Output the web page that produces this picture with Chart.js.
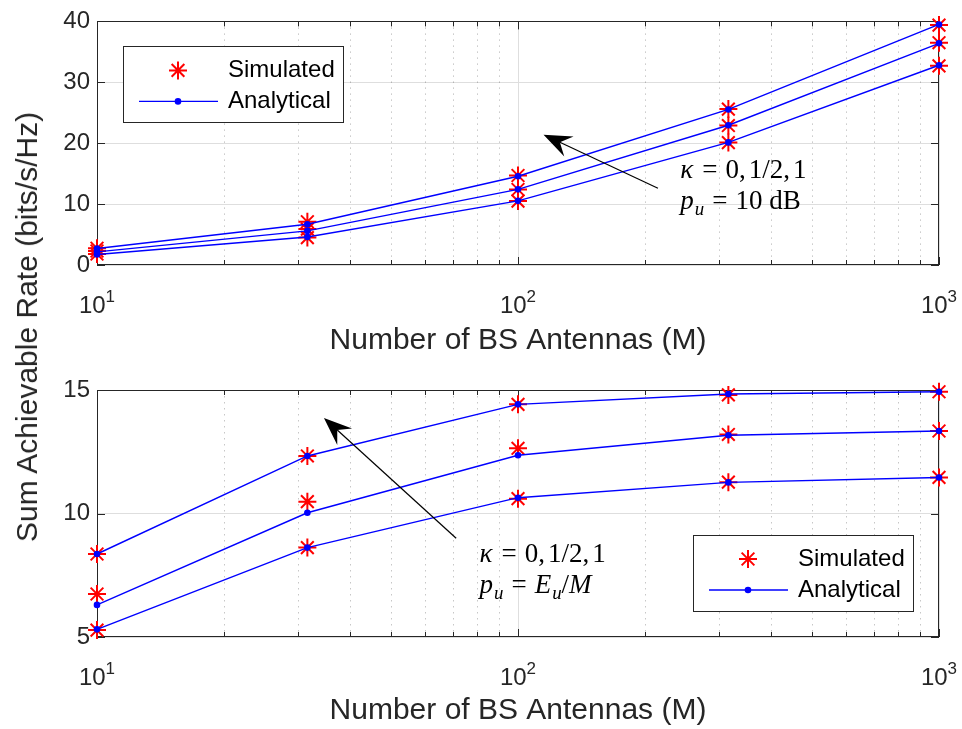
<!DOCTYPE html>
<html>
<head>
<meta charset="utf-8">
<script src="https://cdn.jsdelivr.net/npm/chart.js@4.4.0/dist/chart.umd.min.js"></script>
<style>
  body { margin: 0; background: #fff; }
  #wrap { position: relative; width: 962px; height: 729px; overflow: hidden; }
  canvas { position: absolute; left: 0; }
  #ylabel {
    position: absolute; left: 27px; top: 327px;
    transform: translate(-50%, -50%) rotate(-90deg);
    font: 30px "Liberation Sans", Arial, sans-serif;
    color: #262626; white-space: nowrap;
  }
</style>
</head>
<body>
<div id="wrap">
  <canvas id="rateFixed" width="962" height="365" style="top:0"></canvas>
  <canvas id="rateScaled" width="962" height="364" style="top:365px"></canvas>
  <div id="ylabel">Sum Achievable Rate (bits/s/Hz)</div>
</div>
<script>
// number of BS antennas M
const antennas = [10, 31.6, 100, 316, 1000];
const xTicks = [10, 20, 30, 40, 50, 60, 70, 80, 90, 100, 200, 300, 400, 500, 600, 700, 800, 900, 1000];
const xDecades = [10, 100, 1000];
const yTicksFixed = [0, 10, 20, 30, 40];
const yTicksScaled = [5, 10, 15];
const legendLabels = ['Simulated', 'Analytical'];

// p_u = 10 dB, kappa = 0, 1/2, 1
const fixedAnalyticA = [2.70, 6.70, 14.57, 25.54, 39.5];
const fixedAnalyticB = [2.16, 5.60, 12.42, 22.95, 36.4];
const fixedAnalyticC = [1.73, 4.60, 10.53, 20.13, 32.8];
const fixedSimA = [2.75, 7.10, 14.70, 25.60, 39.4];
const fixedSimB = [2.30, 5.90, 12.40, 22.90, 36.5];
const fixedSimC = [1.80, 4.50, 10.50, 20.10, 32.7];

// p_u = E_u / M
const scaledAnalyticA = [8.36, 12.33, 14.42, 14.84, 14.93];
const scaledAnalyticB = [6.30, 10.03, 12.36, 13.17, 13.34];
const scaledAnalyticC = [5.31, 8.62, 10.64, 11.26, 11.46];
const scaledSimA = [8.36, 12.33, 14.42, 14.80, 14.93];
const scaledSimB = [6.74, 10.48, 12.64, 13.20, 13.34];
const scaledSimC = [5.28, 8.62, 10.60, 11.27, 11.46];

const AXIS = '#262626';
const SANS = '"Liberation Sans", Arial, sans-serif';
const SERIF = '"Liberation Serif", "Times New Roman", serif';

function pts(values) {
  return antennas.map((m, i) => ({ x: m, y: values[i] }));
}
function analytic(values) {
  return {
    label: legendLabels[1], data: pts(values), showLine: true,
    borderColor: '#0000ff', backgroundColor: '#0000ff', borderWidth: 1.4,
    pointRadius: 3.3, pointBorderWidth: 0, pointStyle: 'circle', clip: false
  };
}
function simulated(values) {
  return {
    label: legendLabels[0], data: pts(values), showLine: false,
    borderColor: '#ff0000', backgroundColor: '#ff0000',
    pointStyle: 'star', pointRadius: 9, pointBorderWidth: 2, clip: false
  };
}

function arrow(ctx, x1, y1, x2, y2) {
  const a = Math.atan2(y2 - y1, x2 - x1), c = Math.cos(a), s = Math.sin(a);
  const L = 28, W = 11, N = 18;
  ctx.beginPath();
  ctx.moveTo(x1, y1);
  ctx.lineTo(x2 - N * c, y2 - N * s);
  ctx.stroke();
  ctx.beginPath();
  ctx.moveTo(x2, y2);
  ctx.lineTo(x2 - L * c + W * s, y2 - L * s - W * c);
  ctx.lineTo(x2 - N * c, y2 - N * s);
  ctx.lineTo(x2 - L * c - W * s, y2 - L * s + W * c);
  ctx.closePath();
  ctx.fill();
}

// small inline math: italic symbols, upright numbers, subscripts
function drawMath(ctx, x, y, parts, size) {
  let cx = x;
  parts.forEach(p => {
    const fs = p.sub ? size * 0.7 : size;
    ctx.font = (p.i ? 'italic ' : '') + fs + 'px ' + SERIF;
    ctx.fillText(p.t, cx, p.sub ? y + size * 0.22 : y);
    cx += ctx.measureText(p.t).width + (p.i && !p.sub ? 1 : 0) + (p.gap || 0);
  });
}

const matlabAxes = {
  id: 'matlabAxes',
  beforeDatasetsDraw(chart) {
    const { ctx, chartArea: a, scales: { x, y } } = chart;
    ctx.save();
    // dotted minor grid
    ctx.strokeStyle = 'rgba(0,0,0,0.22)';
    ctx.lineWidth = 1;
    ctx.setLineDash([1.5, 4.5]);
    ctx.beginPath();
    x.ticks.forEach(t => {
      if (xDecades.includes(t.value)) return;
      const px = Math.round(x.getPixelForValue(t.value)) + 0.5;
      ctx.moveTo(px, a.top); ctx.lineTo(px, a.bottom);
    });
    ctx.stroke();
    ctx.setLineDash([]);
    // box and inward ticks
    ctx.strokeStyle = AXIS;
    ctx.beginPath();
    x.ticks.forEach(t => {
      const px = Math.round(x.getPixelForValue(t.value)) + 0.5;
      const len = xDecades.includes(t.value) ? 8 : 5;
      ctx.moveTo(px, a.bottom); ctx.lineTo(px, a.bottom - len);
      ctx.moveTo(px, a.top); ctx.lineTo(px, a.top + len);
    });
    y.ticks.forEach(t => {
      const py = Math.round(y.getPixelForValue(t.value)) + 0.5;
      ctx.moveTo(a.left, py); ctx.lineTo(a.left + 8, py);
      ctx.moveTo(a.right, py); ctx.lineTo(a.right - 8, py);
    });
    ctx.stroke();
    ctx.strokeRect(Math.round(a.left) + 0.5, Math.round(a.top) + 0.5,
      Math.round(a.width) - 1, Math.round(a.height) - 1);
    // decade labels 10^n
    ctx.fillStyle = AXIS;
    ctx.textBaseline = 'alphabetic';
    ctx.textAlign = 'left';
    xDecades.forEach(v => {
      const px = x.getPixelForValue(v);
      const exp = String(Math.round(Math.log10(v)));
      ctx.font = '24px ' + SANS;
      const w1 = ctx.measureText('10').width;
      ctx.font = '17px ' + SANS;
      const w2 = ctx.measureText(exp).width;
      const left = px - (w1 + w2) / 2;
      const base = a.bottom + 48;
      ctx.font = '24px ' + SANS;
      ctx.fillText('10', left, base);
      ctx.font = '17px ' + SANS;
      ctx.fillText(exp, left + w1, base - 11);
    });
    ctx.restore();
  },
  afterDraw(chart, args, opts) {
    const { ctx, chartArea: a, scales: { x, y } } = chart;
    ctx.save();
    // annotation arrow and text
    ctx.fillStyle = '#000';
    ctx.strokeStyle = '#000';
    ctx.lineWidth = 1.2;
    ctx.textBaseline = 'alphabetic';
    ctx.textAlign = 'left';
    (opts.notes || []).forEach(n => {
      arrow(ctx, x.getPixelForValue(n.from[0]), y.getPixelForValue(n.from[1]),
        x.getPixelForValue(n.to[0]), y.getPixelForValue(n.to[1]));
      n.lines.forEach(l => drawMath(ctx, x.getPixelForValue(l.at[0]), y.getPixelForValue(l.at[1]), l.parts, 27));
    });
    // legend box
    const lg = opts.legend;
    if (lg) {
      const w = 220, h = 76;
      const bx = lg.corner === 'tl' ? a.left + lg.dx : a.right - lg.dx - w;
      const by = lg.corner === 'tl' ? a.top + lg.dy : a.bottom - lg.dy - h;
      ctx.fillStyle = '#fff';
      ctx.fillRect(bx, by, w, h);
      ctx.strokeStyle = AXIS;
      ctx.lineWidth = 1;
      ctx.strokeRect(Math.round(bx) + 0.5, Math.round(by) + 0.5, w, h);
      const r1 = by + 24, r2 = by + 55, mx = bx + 55;
      ctx.strokeStyle = '#ff0000';
      ctx.lineWidth = 2;
      Chart.helpers.drawPoint(ctx, { pointStyle: 'star', radius: 9, borderWidth: 2, rotation: 0 }, mx, r1);
      ctx.strokeStyle = '#0000ff';
      ctx.lineWidth = 1.4;
      ctx.beginPath(); ctx.moveTo(bx + 16, r2); ctx.lineTo(bx + 95, r2); ctx.stroke();
      ctx.fillStyle = '#0000ff';
      ctx.beginPath(); ctx.arc(mx, r2, 3.3, 0, Math.PI * 2); ctx.fill();
      ctx.fillStyle = '#000';
      ctx.font = '24px ' + SANS;
      ctx.textBaseline = 'middle';
      ctx.fillText(legendLabels[0], bx + 105, r1);
      ctx.fillText(legendLabels[1], bx + 105, r2);
    }
    ctx.restore();
  }
};

function makeChart(id, datasets, yMin, yMax, yTicks, padTop, axisHeight, titlePad, extra) {
  return new Chart(document.getElementById(id), {
    type: 'scatter',
    data: { datasets },
    plugins: [matlabAxes],
    options: {
      responsive: false,
      animation: false,
      devicePixelRatio: 1,
      layout: { padding: { top: padTop, right: 23, left: 0, bottom: 0 }, autoPadding: false },
      plugins: { legend: { display: false }, tooltip: { enabled: false }, matlabAxes: extra },
      scales: {
        x: {
          type: 'logarithmic', min: 10, max: 1000,
          afterBuildTicks: s => { s.ticks = xTicks.map(v => ({ value: v, major: xDecades.includes(v) })); },
          afterFit: s => { s.height = axisHeight; },
          ticks: { display: false },
          border: { display: false },
          grid: { drawTicks: false, color: c => (c.tick && xDecades.includes(c.tick.value)) ? '#dedede' : 'rgba(0,0,0,0)' },
          title: { display: true, text: 'Number of BS Antennas (M)', color: AXIS,
            font: { family: SANS, size: 30 }, padding: { top: 0, bottom: titlePad } }
        },
        y: {
          min: yMin, max: yMax,
          afterBuildTicks: s => { s.ticks = yTicks.map(v => ({ value: v })); },
          afterFit: s => { s.width = 97; },
          border: { display: false },
          grid: { drawTicks: false, color: '#dedede' },
          ticks: { color: AXIS, padding: 7, font: { family: SANS, size: 24 } }
        }
      }
    }
  });
}

// spacing around relations and after commas, roughly as TeX sets them
const REL = 8;
const THIN = 3;

makeChart('rateFixed', [
  analytic(fixedAnalyticA), analytic(fixedAnalyticB), analytic(fixedAnalyticC),
  simulated(fixedSimA), simulated(fixedSimB), simulated(fixedSimC)
], 0, 40, yTicksFixed, 18, 100, 6, {
  legend: { corner: 'tl', dx: 26, dy: 25 },
  notes: [{
    from: [215, 12.6], to: [115, 21.4],
    lines: [
      { at: [243, 14.25], parts: [{ t: 'κ', i: 1, gap: REL }, { t: '=', gap: REL }, { t: '0,', gap: THIN }, { t: '1/2,', gap: THIN }, { t: '1' }] },
      { at: [243, 9.2], parts: [{ t: 'p', i: 1 }, { t: 'u', i: 1, sub: 1, gap: REL }, { t: '=', gap: REL }, { t: '10 dB' }] }
    ]
  }]
});

makeChart('rateScaled', [
  analytic(scaledAnalyticA), analytic(scaledAnalyticB), analytic(scaledAnalyticC),
  simulated(scaledSimA), simulated(scaledSimB), simulated(scaledSimC)
], 5, 15, yTicksScaled, 25, 92, 0, {
  legend: { corner: 'br', dx: 26, dy: 26 },
  notes: [{
    from: [71.3, 9.0], to: [34.6, 13.87],
    lines: [
      { at: [81, 8.04], parts: [{ t: 'κ', i: 1, gap: REL }, { t: '=', gap: REL }, { t: '0,', gap: THIN }, { t: '1/2,', gap: THIN }, { t: '1' }] },
      { at: [81, 6.78], parts: [{ t: 'p', i: 1 }, { t: 'u', i: 1, sub: 1, gap: REL }, { t: '=', gap: REL },
        { t: 'E', i: 1 }, { t: 'u', i: 1, sub: 1 }, { t: '/' }, { t: 'M', i: 1 }] }
    ]
  }]
});
</script>
</body>
</html>
